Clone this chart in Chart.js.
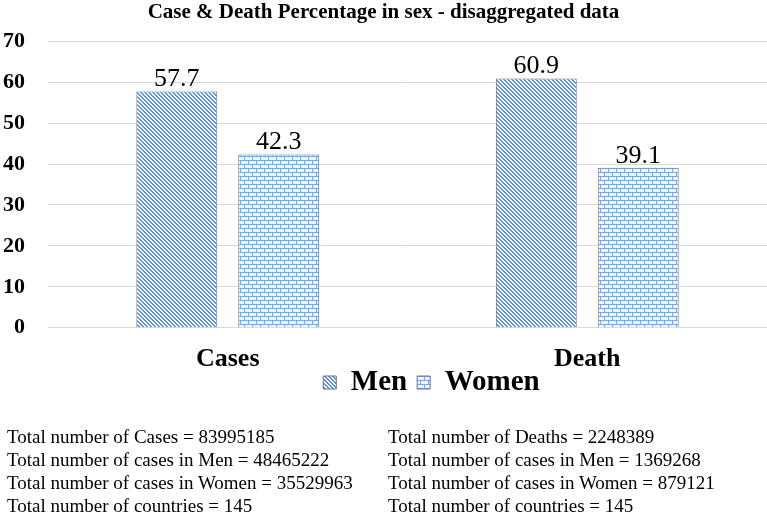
<!DOCTYPE html>
<html>
<head>
<meta charset="utf-8">
<script src="https://cdn.jsdelivr.net/npm/chart.js@4.4.1/dist/chart.umd.min.js"></script>
<style>
  html, body { margin: 0; padding: 0; background: #fff; }
  #wrap { position: relative; width: 767px; height: 514px; }
  #chartBox { position: absolute; left: 0; top: 0; width: 767px; height: 432px; }
  .notes { position: absolute; top: 425px; font-family: "Liberation Serif", "Times New Roman", serif; font-size: 19px; line-height: 23px; color: #000; white-space: nowrap; }
</style>
</head>
<body>
<div id="wrap">
  <div id="chartBox"><canvas id="chart"></canvas></div>
  <div class="notes" style="left:7px" id="notesLeft"></div>
  <div class="notes" style="left:388px" id="notesRight"></div>
</div>
<script>
// chart data
const categories = ["Cases", "Death"];
const menValues = [57.7, 60.9];
const womenValues = [42.3, 39.1];
const yTicks = [0, 10, 20, 30, 40, 50, 60, 70];

const casesNotes = [
  "Total number of Cases = 83995185",
  "Total number of cases in Men = 48465222",
  "Total number of cases in Women = 35529963",
  "Total number of countries = 145"
];
const deathNotes = [
  "Total number of Deaths = 2248389",
  "Total number of cases in Men = 1369268",
  "Total number of cases in Women = 879121",
  "Total number of countries = 145"
];

document.getElementById("notesLeft").innerHTML = casesNotes.map(t => "<div>" + t + "</div>").join("");
document.getElementById("notesRight").innerHTML = deathNotes.map(t => "<div>" + t + "</div>").join("");

// diagonal stripe pattern for Men
function stripePattern() {
  const c = document.createElement("canvas");
  c.width = 4; c.height = 4;
  const g = c.getContext("2d");
  g.fillStyle = "#ffffff";
  g.fillRect(0, 0, 4, 4);
  g.fillStyle = "#5b8fd6";
  for (let y = 0; y < 4; y++) {
    for (let x = 0; x < 4; x++) {
      if ((x - y + 8) % 4 < 2) g.fillRect(x, y, 1, 1);
    }
  }
  return g.createPattern(c, "repeat");
}

// brick pattern for Women
function brickPattern() {
  const c = document.createElement("canvas");
  c.width = 8; c.height = 8;
  const g = c.getContext("2d");
  g.fillStyle = "#f2f6fc";
  g.fillRect(0, 0, 8, 8);
  g.fillStyle = "#7aa7e0";
  g.fillRect(0, 0, 8, 1);
  g.fillRect(0, 4, 8, 1);
  g.fillRect(0, 1, 1, 3);
  g.fillRect(4, 5, 1, 3);
  return g.createPattern(c, "repeat");
}

// draws the value above each bar
const valueLabels = {
  id: "valueLabels",
  afterDatasetsDraw(chart) {
    const ctx = chart.ctx;
    ctx.save();
    ctx.font = "26px 'Liberation Serif'";
    ctx.fillStyle = "#000";
    ctx.textAlign = "center";
    ctx.textBaseline = "bottom";
    chart.data.datasets.forEach((ds, i) => {
      chart.getDatasetMeta(i).data.forEach((bar, j) => {
        ctx.fillText(ds.data[j].toFixed(1), bar.x, bar.y + 1);
      });
    });
    ctx.restore();
  }
};

// pulls the legend up close to the category labels, a bit right of centre
const legendNudge = {
  id: "legendNudge",
  beforeDraw(chart) {
    const lg = chart.legend;
    if (!lg || lg._nudged) return;
    lg.top -= 25; lg.bottom -= 25;
    lg.left += 48; lg.right += 48;
    lg._nudged = true;
  },
  afterLayout(chart) {
    if (chart.legend) chart.legend._nudged = false;
  }
};

const ctx = document.getElementById("chart").getContext("2d");
new Chart(ctx, {
  type: "bar",
  data: {
    labels: categories,
    datasets: [
      {
        label: "Men",
        data: menValues,
        backgroundColor: stripePattern(),
        borderColor: "#6a7686",
        borderWidth: 1,
        categoryPercentage: 0.567,
        barPercentage: 0.794
      },
      {
        label: "Women",
        data: womenValues,
        backgroundColor: brickPattern(),
        borderColor: "#6a7686",
        borderWidth: 1,
        categoryPercentage: 0.567,
        barPercentage: 0.794
      }
    ]
  },
  options: {
    responsive: true,
    maintainAspectRatio: false,
    animation: false,
    layout: { padding: 0 },
    plugins: {
      title: {
        display: true,
        text: "Case & Death Percentage in sex - disaggregated data",
        color: "#000",
        font: { family: "Liberation Serif", size: 21, weight: "bold" },
        padding: { top: 0, bottom: 16 }
      },
      legend: {
        position: "bottom",
        labels: {
          color: "#000",
          font: { family: "Liberation Serif", size: 29, weight: "bold" },
          boxWidth: 13,
          boxHeight: 13,
          padding: 10
        }
      },
      tooltip: { enabled: false }
    },
    scales: {
      x: {
        grid: { display: false },
        border: { color: "#d9d9d9" },
        ticks: {
          color: "#000",
          font: { family: "Liberation Serif", size: 26, weight: "bold" },
          padding: 8
        }
      },
      y: {
        min: 0,
        max: 70,
        afterBuildTicks: axis => { axis.ticks = yTicks.map(v => ({ value: v })); },
        afterFit: axis => { axis.width = 48; },
        grid: { color: "#d9d9d9", drawTicks: false },
        border: { display: false },
        ticks: {
          color: "#000",
          font: { family: "Liberation Serif", size: 22, weight: "bold" },
          padding: 23
        }
      }
    }
  },
  plugins: [valueLabels, legendNudge]
});
</script>
</body>
</html>
